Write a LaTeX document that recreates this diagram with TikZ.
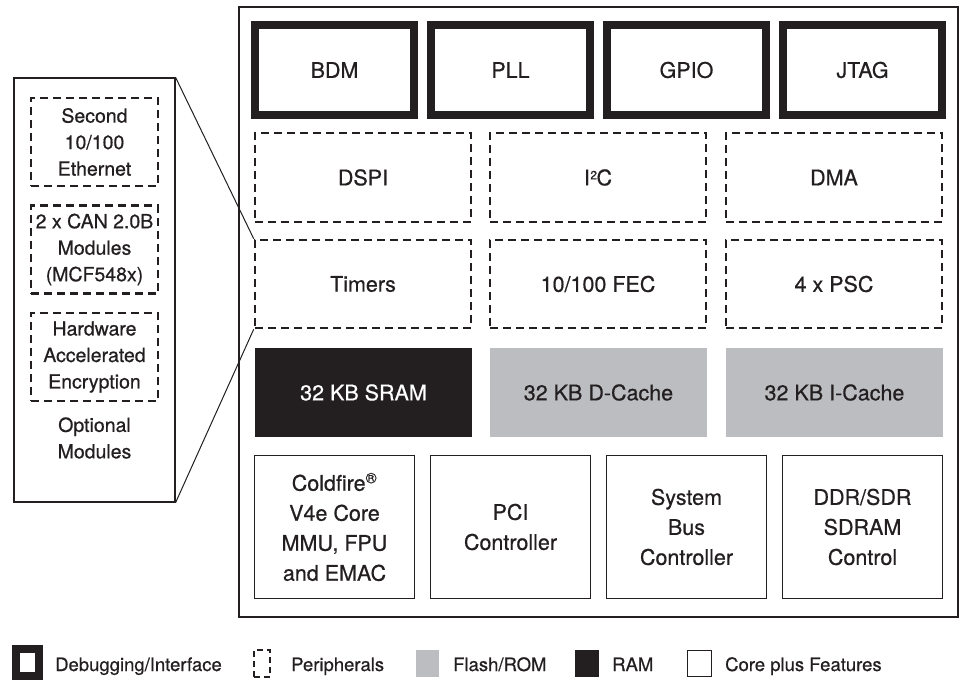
\documentclass[tikz,border=0pt]{standalone}
\usepackage{fontspec}
\setmainfont[FakeBold=0.6]{TeX Gyre Heros}
\definecolor{ink}{RGB}{35,31,32}
\definecolor{flash}{RGB}{188,189,192}
\begin{document}
\begin{tikzpicture}[x=1pt,y=-1pt,
  every node/.style={text=ink, inner sep=0pt, align=center},
  bigfont/.style={font=\fontsize{21.5}{30}\selectfont},
  optfont/.style={font=\fontsize{19.5}{26.5}\selectfont},
  legfont/.style={font=\fontsize{18.5}{22}\selectfont},
  dbgbox/.style={draw=ink, line width=8pt, minimum width=159pt, minimum height=90pt, bigfont},
  peribox/.style={draw=ink, line width=2.6pt, dash pattern=on 8pt off 5pt, minimum width=216pt, minimum height=89pt, bigfont},
  flashbox/.style={fill=flash, minimum width=217pt, minimum height=89pt, bigfont},
  rambox/.style={fill=ink, text=white, minimum width=217pt, minimum height=89pt, bigfont},
  corebox/.style={draw=ink, line width=1.2pt, minimum width=160pt, minimum height=143pt, bigfont},
  optbox/.style={draw=ink, line width=2.6pt, dash pattern=on 8pt off 5pt, minimum width=127pt, minimum height=88pt, optfont},
  zoomline/.style={draw=ink, line width=1pt},
]
\useasboundingbox (0,0) rectangle (961,680);

% main chip outline
\node[draw=ink, line width=1.3pt, minimum width=719pt, minimum height=610pt] (chip) at (598.5,312) {};

% debugging / interface
\node[dbgbox] (bdm)  at (334.5,70) {BDM};
\node[dbgbox] (pll)  at (510.5,70) {PLL};
\node[dbgbox] (gpio) at (686.5,70) {GPIO};
\node[dbgbox] (jtag) at (862.5,70) {JTAG};

% peripherals
\node[peribox] (dspi)   at (363,177.5) {DSPI};
\node[peribox] (i2c)    at (598,177.5) {I\kern0.5pt\raisebox{6pt}{\fontsize{12}{12}\selectfont 2}\kern-0.5pt C};
\node[peribox] (dma)    at (834,177.5) {DMA};
\node[peribox, minimum height=88pt] (timers) at (363,284) {Timers};
\node[peribox, minimum height=88pt] (fec)    at (598,284) {10/100 FEC};
\node[peribox, minimum height=88pt] (psc)    at (834,284) {4 x PSC};

% memories
\node[rambox]   (sram)   at (363.5,392.5) {32 KB SRAM};
\node[flashbox] (dcache) at (598.5,392.5) {32 KB D-Cache};
\node[flashbox] (icache) at (834.5,392.5) {32 KB I-Cache};

% core plus features
\node[corebox] (core) at (334.5,527) {Coldfire\textsuperscript{\textregistered}\\V4e Core\\MMU, FPU\\and EMAC};
\node[corebox] (pci)  at (510.5,527) {PCI\\Controller};
\node[corebox] (sbc)  at (686.5,527) {System\\Bus\\Controller};
\node[corebox] (ddr)  at (862.5,527) {DDR/SDR\\SDRAM\\Control};

% optional modules
\node[draw=ink, line width=1.2pt, minimum width=161pt, minimum height=424pt] (opt) at (94.5,290) {};
\node[optbox] (eth)  at (94.5,142)   {Second\\10/100\\Ethernet};
\node[optbox] (can)  at (94.5,249.5) {2 x CAN 2.0B\\Modules\\(MCF548x)};
\node[optbox] (enc)  at (94.5,357)   {Hardware\\Accelerated\\Encryption};
\node[optfont] (optlabel) at (94.5,438) {Optional\\Modules};

\draw[zoomline] (opt.north east) -- (timers.north west);
\draw[zoomline] (opt.south east) -- (timers.south west);

% legend
\node[draw=ink, line width=8pt, minimum width=23pt, minimum height=27pt] (lg1) at (27.5,662.5) {};
\node[legfont, anchor=base west] (lt1) at (55,671) {Debugging/Interface};
\node[draw=ink, line width=2.6pt, dash pattern=on 6pt off 4pt, minimum width=16pt, minimum height=27pt] (lg2) at (262,663.5) {};
\node[legfont, anchor=base west] (lt2) at (291,671) {Peripherals};
\node[fill=flash, minimum width=23pt, minimum height=27pt] (lg3) at (427.5,663.5) {};
\node[legfont, anchor=base west] (lt3) at (453,671) {Flash/ROM};
\node[fill=ink, minimum width=24pt, minimum height=27pt] (lg4) at (587,663.5) {};
\node[legfont, anchor=base west] (lt4) at (612,671) {RAM};
\node[draw=ink, line width=1pt, minimum width=24pt, minimum height=26pt] (lg5) at (699.5,663.5) {};
\node[legfont, anchor=base west] (lt5) at (725,671) {Core plus Features};
\end{tikzpicture}
\end{document}
